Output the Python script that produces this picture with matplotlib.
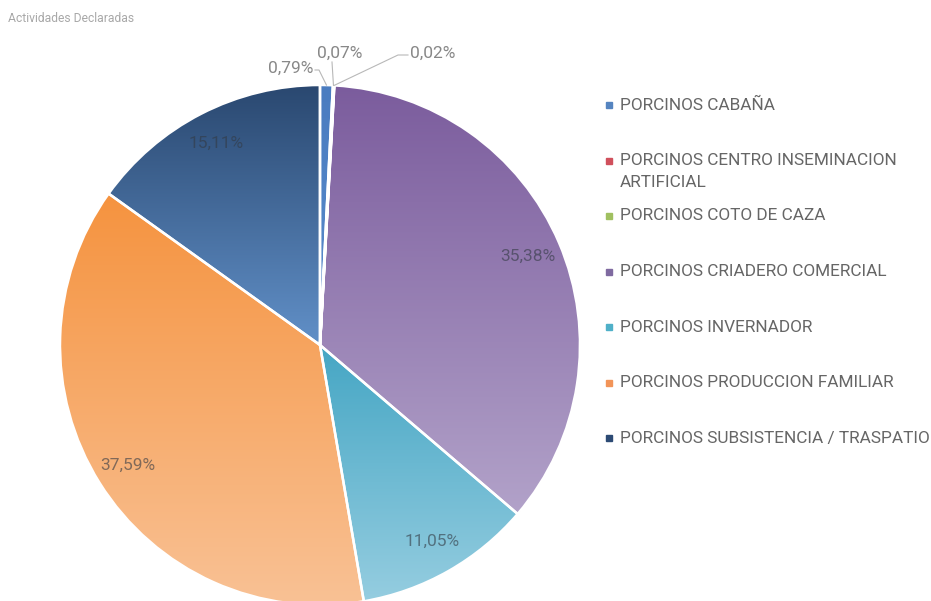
import numpy as np
import matplotlib
matplotlib.use("Agg")
import matplotlib.pyplot as plt
from matplotlib.colors import LinearSegmentedColormap

plt.rcParams['font.family'] = ['Roboto', 'DejaVu Sans']

title = "Actividades Declaradas"
categories = [
    "PORCINOS CABAÑA",
    "PORCINOS CENTRO INSEMINACION\nARTIFICIAL",
    "PORCINOS COTO DE CAZA",
    "PORCINOS CRIADERO COMERCIAL",
    "PORCINOS INVERNADOR",
    "PORCINOS PRODUCCION FAMILIAR",
    "PORCINOS SUBSISTENCIA / TRASPATIO",
]
values = [0.79, 0.07, 0.02, 35.38, 11.05, 37.59, 15.11]
pct_labels = ["0,79%", "0,07%", "0,02%", "35,38%", "11,05%", "37,59%", "15,11%"]

legend_colors = ["#5584c0", "#d0505c", "#a0c060", "#7f6aa0", "#4fb0c8", "#f29458", "#2c4a74"]
grad_top = ["#4a7cc0", "#d0505a", "#9bbb59", "#7b5c9d", "#45a6c4", "#f5933f", "#2a4870"]
grad_bot = ["#5a8ccc", "#d0505a", "#9bbb59", "#b2a2c9", "#95cde0", "#f9c296", "#6190c8"]

W, H = 931, 601
fig = plt.figure(figsize=(W / 100, H / 100), dpi=100)
fig.patch.set_facecolor("white")

cx, cy, R = 320, 345, 260
ax = fig.add_axes([(cx - R) / W, (H - cy - R) / H, 2 * R / W, 2 * R / H])
ax.axis("off")

wedges, _ = ax.pie(values, startangle=90, counterclock=False, radius=1,
                   wedgeprops=dict(edgecolor="white", linewidth=1.8))

for i, w in enumerate(wedges):
    verts = w.get_path().vertices
    ymin, ymax = verts[:, 1].min(), verts[:, 1].max()
    xmin, xmax = verts[:, 0].min(), verts[:, 0].max()
    cmap = LinearSegmentedColormap.from_list("g%d" % i, [grad_bot[i], grad_top[i]])
    grad = np.linspace(0, 1, 256).reshape(-1, 1)
    im = ax.imshow(grad, cmap=cmap, origin="lower", aspect="auto",
                   extent=[xmin, xmax, ymin, ymax], interpolation="bilinear", zorder=1)
    im.set_clip_path(w)
    w.set_facecolor("none")
    w.set_zorder(2)
    w.set_clip_on(False)

ax.set_xlim(-1, 1)
ax.set_ylim(-1, 1)
ax.set_aspect("equal")

NUM_FS = 12.5

# inner percentage labels
cum = np.cumsum([0] + values[:-1])
total = sum(values)
for i, v in enumerate(values):
    if v < 5:
        continue
    mid = 90 - 360 * (cum[i] + v / 2) / total
    r = 0.87
    ax.text(r * np.cos(np.radians(mid)), r * np.sin(np.radians(mid)), pct_labels[i],
            ha="center", va="center", fontsize=NUM_FS, color="#333a44", alpha=0.6, zorder=5)

def px(x, y):
    return ((x - cx) / R, (cy - y) / R)

def mid_pt(i, r=1.0):
    mid = 90 - 360 * (cum[i] + values[i] / 2) / total
    return (r * np.cos(np.radians(mid)), r * np.sin(np.radians(mid)))

# outside labels for small slices
lc = "#b8b8b8"
tc = "#888888"
# 0,79%
tx, ty = px(313, 68)
ax.text(tx, ty, pct_labels[0], ha="right", va="center", fontsize=NUM_FS, color=tc)
mx, my = mid_pt(0, 1.0)
ax.plot([px(315, 70)[0], px(319, 70)[0], mx], [px(315, 70)[1], px(319, 70)[1], my],
        color=lc, lw=0.8, clip_on=False)
# 0,07%
tx, ty = px(340, 53)
ax.text(tx, ty, pct_labels[1], ha="center", va="center", fontsize=NUM_FS, color=tc)
mx, my = mid_pt(1, 1.0)
ax.plot([px(332, 62)[0], mx], [px(332, 62)[1], my], color=lc, lw=0.8, clip_on=False)
# 0,02%
tx, ty = px(410, 53)
ax.text(tx, ty, pct_labels[2], ha="left", va="center", fontsize=NUM_FS, color=tc)
mx, my = mid_pt(2, 1.0)
ax.plot([px(408, 55)[0], px(398, 55)[0], mx], [px(408, 55)[1], px(398, 55)[1], my],
        color=lc, lw=0.8, clip_on=False)

# title
fig.text(8 / W, 1 - 19 / H, title, ha="left", va="center", fontsize=8.7, color="#a8a8a8")

# legend
y0, dy = 105, 55.5
for i, lab in enumerate(categories):
    y = y0 + dy * i
    fig.patches.append(plt.Rectangle((606 / W, 1 - (y + 3) / H), 6 / W, 6 / H,
                                     transform=fig.transFigure, color=legend_colors[i]))
    for j, line in enumerate(lab.split("\n")):
        fig.text(620 / W, 1 - (y + 22 * j) / H, line, ha="left", va="center",
                 fontsize=12.4, color="#666666")

fig.savefig("out.png", dpi=100, facecolor="white")
